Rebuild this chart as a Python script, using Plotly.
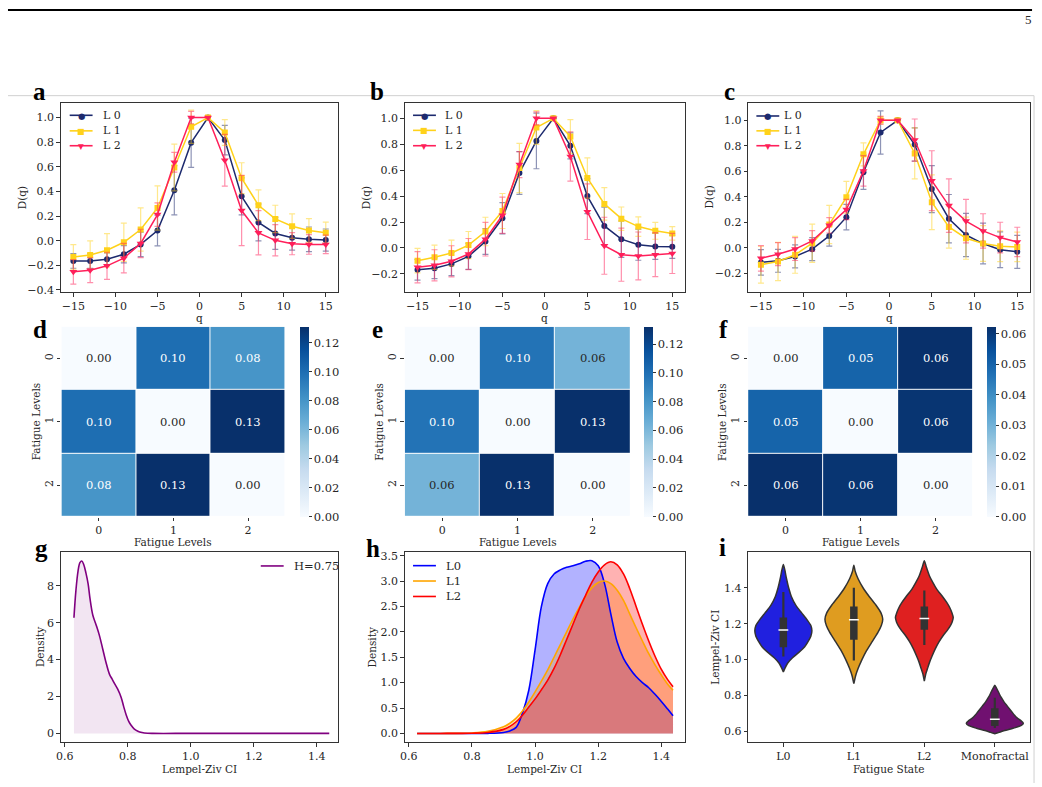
import plotly.graph_objects as go

W, H = 1042, 787
def px(x): return x / W
def py(y): return 1 - y / H

FONT = "DejaVu Serif"
TXT = "#262626"
AX = "#333333"
FS_TOP = 11
FS_MID = 11
FS_BOT = 11
FS_TITLE = 10.5

# ---------------- data: panels a-c (D(q) spectra) ----------------
q_vals = [-15, -13, -11, -9, -7, -5, -3, -1, 1, 3, 5, 7, 9, 11, 13, 15]
level_names = ["L 0", "L 1", "L 2"]

a_L0 = [-0.164, -0.165, -0.15, -0.11, -0.03, 0.083, 0.41, 0.796, 1.0, 0.817, 0.36, 0.148, 0.059, 0.024, 0.011, 0.005]
a_L0_err = [0.06, 0.06, 0.05, 0.07, 0.10, 0.125, 0.20, 0.20, 0.0, 0.12, 0.15, 0.15, 0.13, 0.10, 0.10, 0.09]
a_L1 = [-0.132, -0.116, -0.078, -0.013, 0.091, 0.266, 0.594, 0.925, 1.0, 0.879, 0.508, 0.288, 0.177, 0.118, 0.083, 0.065]
a_L1_err = [0.10, 0.115, 0.135, 0.155, 0.175, 0.18, 0.19, 0.135, 0.0, 0.105, 0.125, 0.125, 0.111, 0.10, 0.097, 0.085]
a_L2 = [-0.253, -0.24, -0.204, -0.142, -0.022, 0.212, 0.637, 1.0, 1.0, 0.653, 0.245, 0.064, 0.003, -0.024, -0.03, -0.03]
a_L2_err = [0.10, 0.10, 0.11, 0.12, 0.115, 0.095, 0.08, 0.05, 0.0, 0.21, 0.285, 0.18, 0.127, 0.09, 0.08, 0.075]

b_L0 = [-0.169, -0.157, -0.123, -0.065, 0.05, 0.229, 0.579, 0.826, 1.0, 0.788, 0.40, 0.17, 0.068, 0.025, 0.012, 0.009]
b_L0_err = [0.08, 0.08, 0.09, 0.10, 0.10, 0.12, 0.165, 0.215, 0.0, 0.10, 0.135, 0.145, 0.14, 0.12, 0.10, 0.09]
b_L1 = [-0.098, -0.072, -0.039, 0.022, 0.127, 0.285, 0.617, 0.929, 1.0, 0.86, 0.54, 0.34, 0.226, 0.165, 0.132, 0.112]
b_L1_err = [0.095, 0.094, 0.10, 0.105, 0.11, 0.135, 0.19, 0.13, 0.0, 0.13, 0.155, 0.125, 0.09, 0.075, 0.065, 0.052]
b_L2 = [-0.149, -0.134, -0.103, -0.047, 0.068, 0.252, 0.643, 1.0, 1.0, 0.706, 0.28, 0.017, -0.052, -0.062, -0.052, -0.042]
b_L2_err = [0.12, 0.12, 0.12, 0.12, 0.13, 0.14, 0.10, 0.05, 0.0, 0.19, 0.215, 0.22, 0.205, 0.185, 0.17, 0.155]

c_L0 = [-0.115, -0.102, -0.068, -0.011, 0.093, 0.24, 0.593, 0.904, 1.0, 0.81, 0.46, 0.228, 0.10, 0.033, -0.016, -0.032]
c_L0_err = [0.10, 0.09, 0.09, 0.09, 0.08, 0.10, 0.135, 0.17, 0.0, 0.13, 0.185, 0.19, 0.17, 0.16, 0.14, 0.13]
c_L1 = [-0.133, -0.107, -0.055, 0.036, 0.183, 0.396, 0.733, 1.0, 1.0, 0.74, 0.357, 0.163, 0.075, 0.033, 0.012, 0.007]
c_L1_err = [0.145, 0.15, 0.145, 0.15, 0.15, 0.125, 0.09, 0.03, 0.0, 0.20, 0.215, 0.165, 0.165, 0.14, 0.12, 0.115]
c_L2 = [-0.083, -0.05, -0.01, 0.054, 0.176, 0.30, 0.603, 1.0, 1.0, 0.845, 0.526, 0.331, 0.209, 0.132, 0.08, 0.046]
c_L2_err = [0.10, 0.09, 0.09, 0.08, 0.06, 0.08, 0.12, 0.03, 0.0, 0.165, 0.235, 0.21, 0.17, 0.135, 0.12, 0.115]

# ---------------- data: panels d-f (distance matrices) ----------------
fatigue_ticks = ["0", "1", "2"]
d_vals = [[0.000, 0.100, 0.080], [0.100, 0.000, 0.131], [0.080, 0.131, 0.000]]
e_vals = [[0.000, 0.098, 0.063], [0.098, 0.000, 0.132], [0.063, 0.132, 0.000]]
f_vals = [[0.000, 0.050, 0.0623], [0.050, 0.000, 0.0612], [0.0623, 0.0612, 0.000]]
d_cbar_ticks = [0.00, 0.02, 0.04, 0.06, 0.08, 0.10, 0.12]
f_cbar_ticks = [0.00, 0.01, 0.02, 0.03, 0.04, 0.05, 0.06]

# ---------------- data: panel g (KDE of monofractal, H=0.75) ----------------
g_label = "H=0.75"
g_x = [0.629, 0.635, 0.642, 0.648, 0.654, 0.66, 0.667, 0.674, 0.68, 0.689, 0.70, 0.71, 0.72, 0.73,
       0.742, 0.75, 0.758, 0.768, 0.779, 0.787, 0.795, 0.803, 0.81, 0.82, 0.832, 0.845, 0.863, 0.88,
       1.0, 1.2, 1.44]
g_y = [6.27, 7.7, 8.8, 9.25, 9.34, 9.15, 8.7, 8.1, 7.3, 6.4, 5.85, 5.3, 4.6, 3.9,
       3.2, 2.95, 2.7, 2.4, 1.95, 1.45, 1.0, 0.65, 0.45, 0.25, 0.12, 0.05, 0.01, 0.0,
       0.0, 0.0, 0.0]

# ---------------- data: panel h (KDEs per fatigue level) ----------------
h_x = [0.626, 0.70, 0.80, 0.85, 0.90, 0.92, 0.94, 0.96, 0.98, 1.00, 1.02, 1.04, 1.06, 1.08, 1.10,
       1.12, 1.14, 1.16, 1.18, 1.20, 1.22, 1.24, 1.26, 1.28, 1.30, 1.32, 1.34, 1.36, 1.38, 1.40,
       1.42, 1.437]
h_L0 = [0.0, 0.0, 0.0, 0.002, 0.02, 0.05, 0.12, 0.40, 0.85, 1.65, 2.50, 2.95, 3.14, 3.22, 3.27,
        3.30, 3.34, 3.39, 3.40, 3.30, 2.95, 2.35, 1.80, 1.48, 1.28, 1.12, 1.00, 0.90, 0.77, 0.63,
        0.48, 0.35]
h_L1 = [0.0, 0.0, 0.01, 0.04, 0.13, 0.20, 0.30, 0.44, 0.62, 0.82, 1.03, 1.25, 1.50, 1.75, 2.00,
        2.25, 2.48, 2.70, 2.87, 2.97, 3.00, 2.95, 2.82, 2.62, 2.35, 2.08, 1.82, 1.57, 1.35, 1.15,
        0.97, 0.85]
h_L2 = [0.0, 0.0, 0.005, 0.02, 0.08, 0.14, 0.23, 0.36, 0.52, 0.68, 0.86, 1.05, 1.28, 1.55, 1.85,
        2.15, 2.45, 2.72, 2.98, 3.18, 3.32, 3.38, 3.32, 3.14, 2.85, 2.50, 2.15, 1.82, 1.52, 1.26,
        1.06, 0.92]
h_names = ["L0", "L1", "L2"]

# ---------------- data: panel i (violins) ----------------
i_cats = ["L0", "L1", "L2", "Monofractal"]
v_L0_y = [1.529, 1.50, 1.45, 1.40, 1.35, 1.30, 1.26, 1.22, 1.19, 1.16, 1.13, 1.10, 1.07, 1.04, 1.01, 0.98, 0.95, 0.931]
v_L0_w = [0, 0.02, 0.045, 0.075, 0.115, 0.18, 0.26, 0.34, 0.39, 0.405, 0.39, 0.35, 0.30, 0.22, 0.13, 0.06, 0.02, 0]
v_L1_y = [1.525, 1.49, 1.45, 1.40, 1.35, 1.30, 1.26, 1.225, 1.19, 1.15, 1.10, 1.05, 1.00, 0.95, 0.91, 0.88, 0.867]
v_L1_w = [0, 0.02, 0.06, 0.13, 0.22, 0.32, 0.385, 0.41, 0.39, 0.34, 0.26, 0.18, 0.115, 0.06, 0.025, 0.008, 0]
v_L2_y = [1.551, 1.52, 1.464, 1.43, 1.39, 1.35, 1.317, 1.29, 1.262, 1.234, 1.21, 1.189, 1.16, 1.133, 1.10,
          1.06, 1.02, 0.986, 0.95, 0.92, 0.881]
v_L2_w = [0, 0.025, 0.075, 0.12, 0.18, 0.26, 0.32, 0.36, 0.39, 0.41, 0.395, 0.37, 0.32, 0.265, 0.21,
          0.155, 0.11, 0.075, 0.045, 0.02, 0]
v_M_y = [0.857, 0.84, 0.821, 0.80, 0.784, 0.765, 0.747, 0.73, 0.71, 0.69, 0.674, 0.66, 0.646, 0.632,
         0.618, 0.605, 0.595, 0.587]
v_M_w = [0, 0.025, 0.05, 0.075, 0.10, 0.13, 0.165, 0.20, 0.24, 0.28, 0.32, 0.37, 0.405, 0.37,
         0.26, 0.14, 0.06, 0]
box_q1 = [1.069, 1.111, 1.166, 0.631]
box_q3 = [1.234, 1.295, 1.295, 0.729]
box_lo = [1.017, 0.995, 1.082, 0.620]
box_hi = [1.376, 1.400, 1.385, 0.788]
box_med = [1.165, 1.222, 1.229, 0.668]

# ---------------- styles ----------------
SER_COL = ["#1d2a6e", "#ffd21a", "#ff1f5a"]
SER_ERR = ["rgba(29,42,110,0.5)", "rgba(255,210,26,0.5)", "rgba(255,31,90,0.5)"]
SER_SYM = ["circle", "square", "triangle-down"]
SER_GLYPH = ["\u25CF", "\u25A0", "\u25BC"]
SER_GSIZE = [8.5, 8, 7.5]
SER_SIZE = [6, 6, 7]
H_COL = ["#0000ff", "#ffa500", "#ff0000"]
H_FILL = ["rgba(0,0,255,0.3)", "rgba(255,165,0,0.3)", "rgba(255,0,0,0.3)"]
V_COL = ["#2020df", "#df9c20", "#df2020", "#701070"]
G_COL = "#800080"

fig = go.Figure()

# panels a-c
top_row = [
    ("", [a_L0, a_L1, a_L2], [a_L0_err, a_L1_err, a_L2_err]),
    ("2", [b_L0, b_L1, b_L2], [b_L0_err, b_L1_err, b_L2_err]),
    ("3", [c_L0, c_L1, c_L2], [c_L0_err, c_L1_err, c_L2_err]),
]
for sfx, series, errs in top_row:
    for k in range(3):
        fig.add_trace(go.Scatter(
            x=q_vals, y=series[k], mode="lines+markers", name=level_names[k],
            line=dict(color=SER_COL[k], width=1.5),
            marker=dict(symbol=SER_SYM[k], size=SER_SIZE[k], color=SER_COL[k]),
            error_y=dict(type="data", array=errs[k], visible=True, color=SER_ERR[k], thickness=1.2, width=3),
            xaxis="x" + sfx, yaxis="y" + sfx, showlegend=False))

# panels d-f heatmaps
heat = [("4", d_vals, d_cbar_ticks, 296.7), ("5", e_vals, d_cbar_ticks, 641.7), ("6", f_vals, f_cbar_ticks, 986.7)]
for sfx, vals, cticks, cbx in heat:
    zmax = max(max(r) for r in vals)
    fig.add_trace(go.Heatmap(
        z=vals, x=[0, 1, 2], y=[0, 1, 2], colorscale="Blues", zmin=0, zmax=zmax,
        xgap=1, ygap=1, xaxis="x" + sfx, yaxis="y" + sfx, showscale=True, hoverinfo="skip",
        colorbar=dict(x=px(cbx), xanchor="left", y=py(422.5), yanchor="middle",
                      len=191.6 / H, lenmode="fraction", thickness=8.5, thicknessmode="pixels",
                      xpad=0, ypad=0, outlinewidth=0, ticks="outside", ticklen=3, tickcolor=AX,
                      tickvals=cticks, tickformat=".2f",
                      tickfont=dict(family=FONT, size=11.5, color=TXT))))
    for r in range(3):
        for c in range(3):
            v = vals[r][c]
            fig.add_annotation(x=c, y=r, xref="x" + sfx, yref="y" + sfx, text=f"{v:.2f}",
                               showarrow=False,
                               font=dict(family=FONT, size=11.5, color="white" if v / zmax > 0.55 else TXT))

# panel g: fill then line
fig.add_trace(go.Scatter(x=g_x, y=g_y, mode="none", fill="tozeroy", fillcolor="rgba(128,0,128,0.1)",
                         xaxis="x7", yaxis="y7", showlegend=False, hoverinfo="skip"))
fig.add_trace(go.Scatter(x=g_x, y=g_y, mode="lines", name=g_label,
                         line=dict(color=G_COL, width=1.6, shape="spline"),
                         xaxis="x7", yaxis="y7", showlegend=False))

# panel h: fills, then lines on top
for k, ys in enumerate([h_L0, h_L1, h_L2]):
    fig.add_trace(go.Scatter(x=h_x, y=ys, mode="none", fill="tozeroy", fillcolor=H_FILL[k],
                             line=dict(shape="spline"), xaxis="x8", yaxis="y8", showlegend=False,
                             hoverinfo="skip"))
for k, ys in enumerate([h_L0, h_L1, h_L2]):
    fig.add_trace(go.Scatter(x=h_x, y=ys, mode="lines", name=h_names[k],
                             line=dict(color=H_COL[k], width=1.6, shape="spline"),
                             xaxis="x8", yaxis="y8", showlegend=False))

# panel i violins
profiles = [(v_L0_y, v_L0_w), (v_L1_y, v_L1_w), (v_L2_y, v_L2_w), (v_M_y, v_M_w)]
for idx, (ys, ws) in enumerate(profiles):
    xs = [idx + w for w in ws] + [idx - w for w in reversed(ws)]
    yy = list(ys) + list(reversed(ys))
    fig.add_trace(go.Scatter(x=xs, y=yy, mode="lines", fill="toself", fillcolor=V_COL[idx],
                             line=dict(color=AX, width=1.5, shape="spline", smoothing=0.6),
                             xaxis="x9", yaxis="y9", showlegend=False, hoverinfo="skip"))
    fig.add_trace(go.Scatter(x=[idx, idx], y=[box_lo[idx], box_hi[idx]], mode="lines",
                             line=dict(color=AX, width=2.2), xaxis="x9", yaxis="y9", showlegend=False))
    fig.add_trace(go.Scatter(x=[idx, idx], y=[box_q1[idx], box_q3[idx]], mode="lines",
                             line=dict(color=AX, width=7.5), xaxis="x9", yaxis="y9", showlegend=False))
    fig.add_trace(go.Scatter(x=[idx], y=[box_med[idx]], mode="markers",
                             marker=dict(symbol="line-ew", size=7, line=dict(color="white", width=1.5)),
                             xaxis="x9", yaxis="y9", showlegend=False))

# ---------------- axes ----------------
def box_axis(domain, rng, tickvals, fmt=None, ticktext=None, anchor=None, fs=FS_TOP):
    d = dict(domain=domain, range=rng, tickvals=tickvals, showline=True, mirror=True, linecolor=AX,
             linewidth=1, ticks="outside", ticklen=3.5, tickwidth=0.8, tickcolor=AX, showgrid=False,
             zeroline=False, tickfont=dict(family=FONT, size=fs, color=TXT), anchor=anchor)
    if fmt:
        d["tickformat"] = fmt
    if ticktext:
        d["ticktext"] = ticktext
    return d

def heat_axis(domain, rng, anchor, angle=0):
    return dict(domain=domain, range=rng, tickvals=[0, 1, 2], ticktext=fatigue_ticks, showline=False,
                ticks="outside", ticklen=3.5, tickwidth=0.8, tickcolor=AX, showgrid=False, zeroline=False,
                tickfont=dict(family=FONT, size=FS_MID, color=TXT), anchor=anchor, tickangle=angle)

row1_y = [py(292), py(100.7)]
row2_y = [py(518.3), py(326.7)]
row3_y = [py(745.7), py(554.3)]
cols = [(56, 335), (401.7, 683.3), (746.7, 1030)]
hcols = [(56.7, 281.7), (401.7, 628.3), (746.7, 972.7)]

qticks = [-15, -10, -5, 0, 5, 10, 15]
lz_ticks = [0.6, 0.8, 1.0, 1.2, 1.4]
layout = dict(
    xaxis=box_axis([px(cols[0][0]), px(cols[0][1])], [-16.5, 16.5], qticks, anchor="y"),
    yaxis=box_axis(row1_y, [-0.42, 1.12], [-0.4, -0.2, 0.0, 0.2, 0.4, 0.6, 0.8, 1.0], ".1f", anchor="x"),
    xaxis2=box_axis([px(cols[1][0]), px(cols[1][1])], [-16.5, 16.5], qticks, anchor="y2"),
    yaxis2=box_axis(row1_y, [-0.343, 1.12], [-0.2, 0.0, 0.2, 0.4, 0.6, 0.8, 1.0], ".1f", anchor="x2"),
    xaxis3=box_axis([px(cols[2][0]), px(cols[2][1])], [-16.5, 16.5], qticks, anchor="y3"),
    yaxis3=box_axis(row1_y, [-0.35, 1.137], [-0.2, 0.0, 0.2, 0.4, 0.6, 0.8, 1.0], ".1f", anchor="x3"),
    xaxis4=heat_axis([px(hcols[0][0]), px(hcols[0][1])], [-0.5, 2.5], "y4"),
    yaxis4=heat_axis(row2_y, [2.5, -0.5], "x4", -90),
    xaxis5=heat_axis([px(hcols[1][0]), px(hcols[1][1])], [-0.5, 2.5], "y5"),
    yaxis5=heat_axis(row2_y, [2.5, -0.5], "x5", -90),
    xaxis6=heat_axis([px(hcols[2][0]), px(hcols[2][1])], [-0.5, 2.5], "y6"),
    yaxis6=heat_axis(row2_y, [2.5, -0.5], "x6", -90),
    xaxis7=box_axis([px(cols[0][0]), px(cols[0][1])], [0.587, 1.469], lz_ticks, ".1f", anchor="y7", fs=FS_BOT),
    yaxis7=box_axis(row3_y, [-0.47, 9.81], [0, 2, 4, 6, 8], anchor="x7", fs=FS_BOT),
    xaxis8=box_axis([px(cols[1][0]), px(cols[1][1])], [0.587, 1.475], lz_ticks, ".1f", anchor="y8", fs=FS_BOT),
    yaxis8=box_axis(row3_y, [-0.17, 3.565], [0, 0.5, 1.0, 1.5, 2.0, 2.5, 3.0, 3.5], ".1f", anchor="x8", fs=FS_BOT),
    xaxis9=box_axis([px(cols[2][0]), px(cols[2][1])], [-0.5, 3.5], [0, 1, 2, 3], ticktext=i_cats, anchor="y9", fs=FS_BOT),
    yaxis9=box_axis(row3_y, [0.541, 1.597], lz_ticks, ".1f", anchor="x9", fs=FS_BOT),
)

fig.update_layout(**layout)
fig.update_layout(width=W, height=H, margin=dict(l=0, r=0, t=0, b=0), paper_bgcolor="white",
                  plot_bgcolor="white", font=dict(family=FONT, size=FS_TITLE, color=TXT), hovermode=False,
                  showlegend=False)

# ---------------- text annotations (titles, panel letters, legends) ----------------
def note(text, x, y, size=FS_TITLE, angle=0, bold=False, family=FONT, xanchor="center", color=None):
    fig.add_annotation(text=f"<b>{text}</b>" if bold else text, x=px(x), y=py(y), xref="paper", yref="paper",
                       showarrow=False, textangle=angle, xanchor=xanchor, yanchor="middle",
                       font=dict(family=family, size=size,
                                 color=color if color else ("#000000" if bold else TXT)))

def legend_entry(x0, x1, xt, y, color, label, glyph=None, gsize=9, fs=FS_TOP):
    fig.add_shape(type="line", xref="paper", yref="paper", x0=px(x0), x1=px(x1), y0=py(y), y1=py(y),
                  line=dict(color=color, width=1.6))
    if glyph:
        note(glyph, (x0 + x1) / 2, y + 0.5, size=gsize, family="DejaVu Sans", color=color)
    note(label, xt, y, size=fs, xanchor="left")

# legends a-c
leg_top = [(65, 88, 96, [113.3, 129, 144]), (410, 433, 440, [113.3, 128.5, 144]),
           (755, 778, 781, [114, 129, 144])]
for x0, x1, xt, rows in leg_top:
    for k in range(3):
        legend_entry(x0, x1, xt, rows[k], SER_COL[k], level_names[k], SER_GLYPH[k], SER_GSIZE[k])
# legend g
legend_entry(257, 280, 288, 568, G_COL, g_label, fs=11.5)
# legend h
for k, yv in enumerate([567.7, 583.2, 598.8]):
    legend_entry(410, 433, 441, yv, H_COL[k], h_names[k], fs=11.5)

for (l, r) in cols:
    note("q", (l + r) / 2, 318)
    note("D(q)", l - 39, 196, angle=-90)
for (l, r) in hcols:
    note("Fatigue Levels", (l + r) / 2, 543.5)
    note("Fatigue Levels", l - 26, 422.5, angle=-90)
note("Lempel-Ziv CI", (cols[0][0] + cols[0][1]) / 2, 773)
note("Density", 35, 650, angle=-90)
note("Lempel-Ziv CI", (cols[1][0] + cols[1][1]) / 2, 773)
note("Density", 369, 650, angle=-90)
note("Fatigue State", (cols[2][0] + cols[2][1]) / 2, 773)
note("Lempel-Ziv CI", 714, 650, angle=-90)

letters = [("a", 35, 89), ("b", 374, 89), ("c", 728, 89), ("d", 35, 329), ("e", 374, 329),
           ("f", 722, 329), ("g", 37, 550), ("h", 370, 550), ("i", 721, 549)]
for t, x, y in letters:
    note(t, x, y, size=25, bold=True, family="Liberation Serif")

note("5", 1028, 17, size=13, family="Liberation Serif")

# page rules
fig.add_shape(type="line", xref="paper", yref="paper", x0=px(3), x1=px(1032), y0=py(7), y1=py(7),
              line=dict(color="black", width=2))
fig.add_shape(type="line", xref="paper", yref="paper", x0=px(3), x1=px(1034), y0=py(93.5), y1=py(93.5),
              line=dict(color="#d0d0d0", width=1))
fig.add_shape(type="line", xref="paper", yref="paper", x0=px(1034), x1=px(1034), y0=py(93.5), y1=py(787),
              line=dict(color="#d0d0d0", width=1))

fig.write_html("out.html")
